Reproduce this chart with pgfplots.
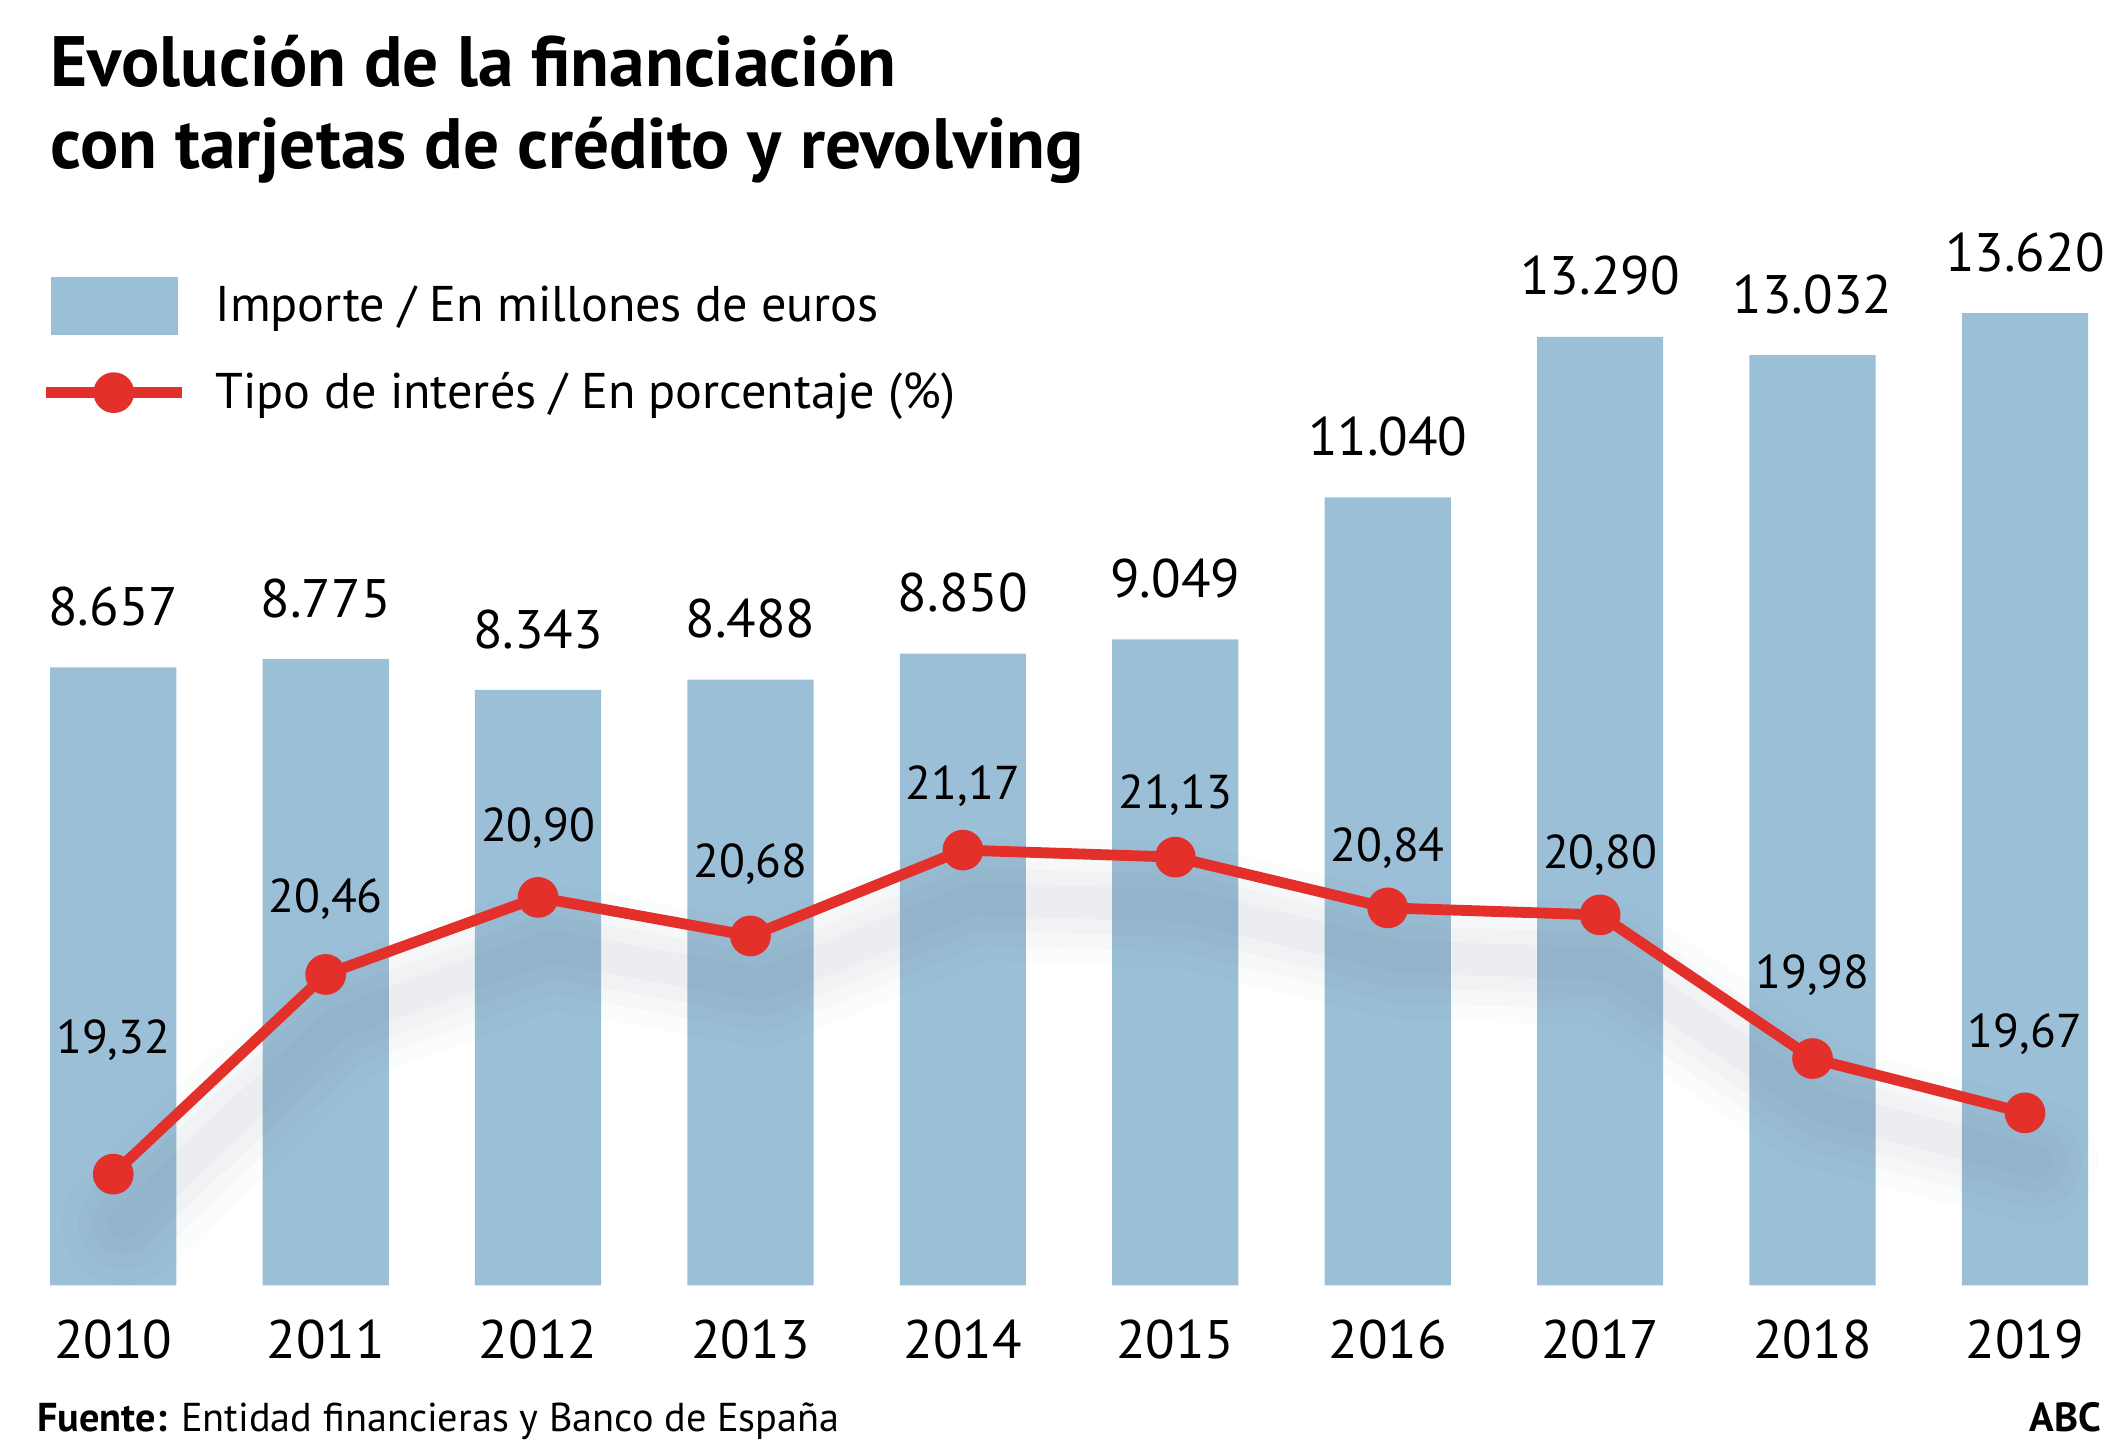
\documentclass[border=0pt]{standalone}
\usepackage{fontspec}
\setmainfont{PT Sans}
\usepackage{pgfplots}
\usepackage{pgfplotstable}
\pgfplotsset{compat=1.18}
\definecolor{barblue}{HTML}{9BBFD6}
\definecolor{linered}{HTML}{E3302B}
\definecolor{shadowc}{HTML}{5F7386}

\pgfplotstableread{
x imp lab year
0 8657 8.657 2010
1 8775 8.775 2011
2 8343 8.343 2012
3 8488 8.488 2013
4 8850 8.850 2014
5 9049 9.049 2015
6 11040 11.040 2016
7 13290 13.290 2017
8 13032 13.032 2018
9 13620 13.620 2019
}\impdata

\pgfplotstableread{
x tipo lab off
0 19.32 19,32 42.5
1 20.46 20,46 21
2 20.90 20,90 18.5
3 20.68 20,68 19.5
4 21.17 21,17 16.5
5 21.13 21,13 16
6 20.84 20,84 15
7 20.80 20,80 15
8 19.98 19,98 24
9 19.67 19,67 22
}\tipodata

\begin{document}
\begin{tikzpicture}
\path[use as bounding box] (0pt,0pt) rectangle (784pt,-536.5pt);

\node[anchor=base west, inner sep=0pt, font=\bfseries\fontsize{26.3}{30}\selectfont] at (18.5pt,-32pt) {Evolución de la financiación};
\node[anchor=base west, inner sep=0pt, font=\bfseries\fontsize{26.3}{30}\selectfont] at (18.5pt,-62pt) {con tarjetas de crédito y revolving};

\begin{axis}[
  at={(18.5pt,-474pt)}, anchor=south west,
  scale only axis, width=751.5pt, height=358.5pt,
  xmin=-0.297, xmax=9.297, ymin=0, ymax=13620,
  axis line style={draw=none}, major tick style={draw=none},
  ytick=\empty,
  xtick=data,
  xticklabels={2010,2011,2012,2013,2014,2015,2016,2017,2018,2019},
  xticklabel style={font=\fontsize{20}{20}\selectfont, anchor=base, inner sep=0pt, yshift=-27pt},
  clip=false,
]
\addplot[ybar, fill=barblue, draw=none, bar width=0.594,
  nodes near coords, point meta=explicit symbolic,
  nodes near coords style={font=\fontsize{20}{20}\selectfont, inner sep=0pt, anchor=south, yshift=15pt}]
  table[x=x, y=imp, meta=lab]{\impdata};
\end{axis}

\begin{axis}[
  at={(18.5pt,-474pt)}, anchor=south west,
  scale only axis, width=751.5pt, height=358.5pt,
  xmin=-0.297, xmax=9.297, ymin=18.685, ymax=24.235,
  hide axis, clip=false,
  legend cell align=left,
  legend style={draw=none, fill=none, at={(axis description cs:-0.0047,1.0377)}, anchor=north west,
    inner sep=0pt, outer sep=0pt, row sep=12pt, column sep=8.5pt,
    font=\fontsize{18.5}{18.5}\selectfont},
]
\addlegendimage{legend image code/.code={\fill[barblue] (0pt,-10.5pt) rectangle (46.5pt,10.5pt);}}
\addlegendentry{Importe / En millones de euros}

\addplot[forget plot, shadowc, opacity=0.025, line width=46pt, line join=round, line cap=round, xshift=4pt, yshift=-18pt] table[x=x, y=tipo]{\tipodata};
\addplot[forget plot, shadowc, opacity=0.03, line width=34pt, line join=round, line cap=round, xshift=4pt, yshift=-18pt] table[x=x, y=tipo]{\tipodata};
\addplot[forget plot, shadowc, opacity=0.035, line width=23pt, line join=round, line cap=round, xshift=4pt, yshift=-18pt] table[x=x, y=tipo]{\tipodata};
\addplot[forget plot, shadowc, opacity=0.04, line width=12pt, line join=round, line cap=round, xshift=4pt, yshift=-18pt] table[x=x, y=tipo]{\tipodata};

\addplot[linered, line width=4pt, mark=*, mark size=5.5pt, mark options={fill=linered, draw=none},
  legend image code/.code={\draw[linered, line width=4pt] (-2pt,0pt) -- (48pt,0pt); \fill[linered] (23pt,0pt) circle (5.5pt);},
  nodes near coords, point meta=explicit symbolic,
  visualization depends on={\thisrow{off} \as \lbloff},
  nodes near coords style={font=\fontsize{17.5}{17.5}\selectfont, inner sep=0pt, text depth=0pt, anchor=south, yshift=\lbloff pt, text=black}]
  table[x=x, y=tipo, meta=lab]{\tipodata};
\addlegendentry{Tipo de interés / En porcentaje (\%)}
\end{axis}

\node[anchor=base west, inner sep=0pt, font=\fontsize{14.85}{15}\selectfont] at (13.5pt,-528pt) {\textbf{Fuente:} Entidad financieras y Banco de España};
\node[anchor=base east, inner sep=0pt, font=\bfseries\fontsize{15}{15}\selectfont] at (775pt,-528pt) {ABC};
\end{tikzpicture}
\end{document}
